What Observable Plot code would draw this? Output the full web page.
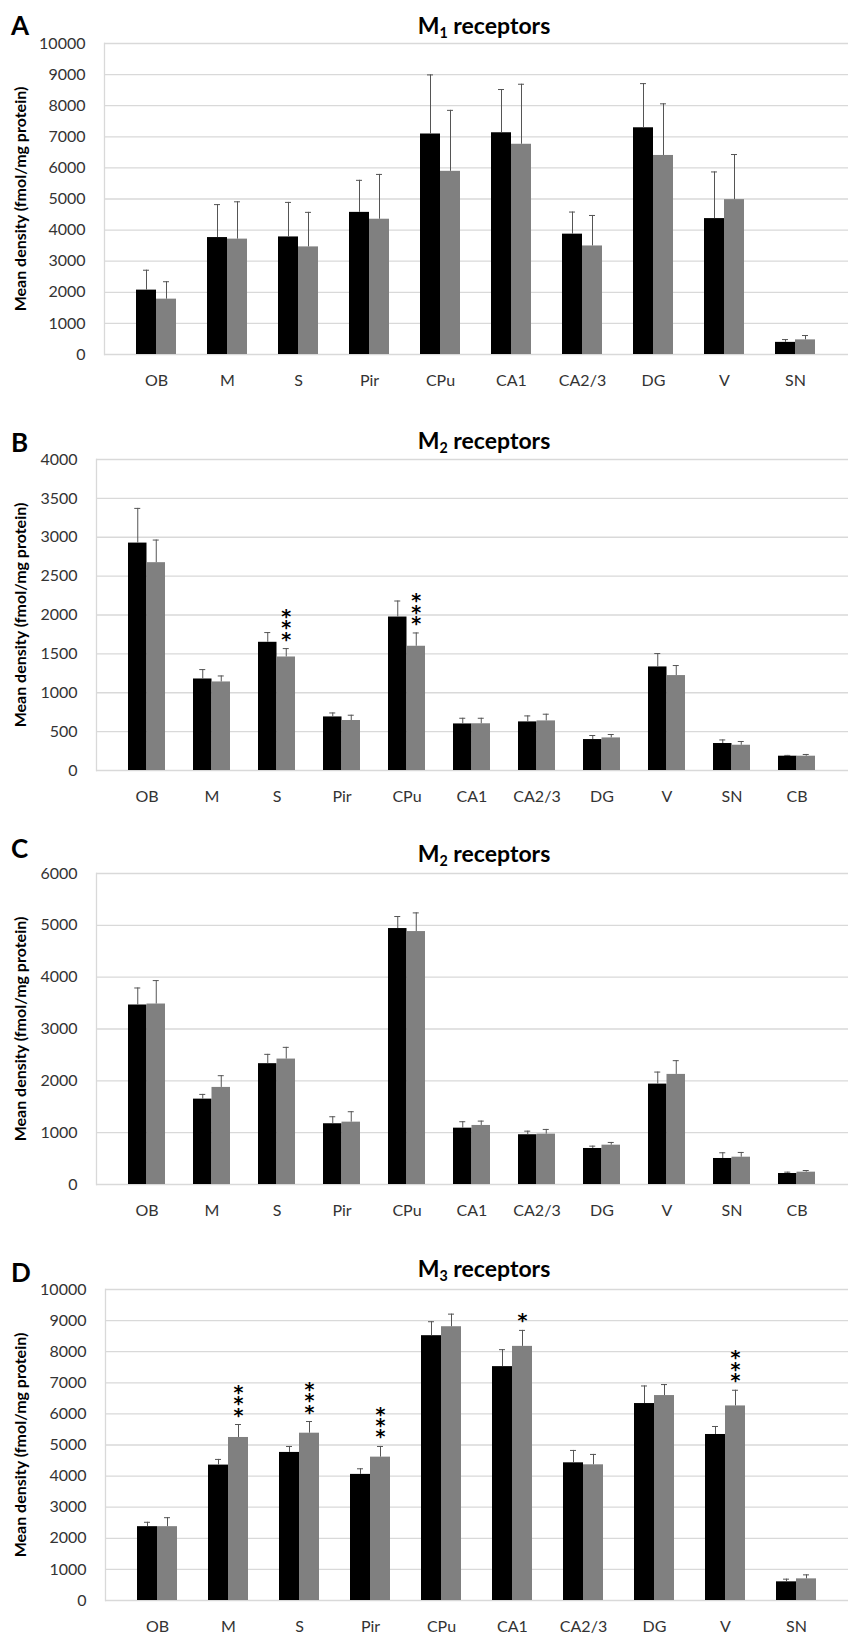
<!DOCTYPE html>
<html><head><meta charset="utf-8">
<script src="https://cdn.jsdelivr.net/npm/d3@7"></script>
<script src="https://cdn.jsdelivr.net/npm/@observablehq/plot@0.6"></script>
<style>
body{margin:0;background:#fff;width:849px;height:1634px;position:relative;overflow:hidden;font-family:Lato,"Open Sans",sans-serif;}
.panel{position:absolute;left:0;}
.letter{position:absolute;left:11px;font-weight:bold;font-size:26px;line-height:26px;color:#000;}
.title{position:absolute;left:334px;width:300px;text-align:center;font-weight:bold;font-size:23px;line-height:23px;color:#000;white-space:nowrap;}
.title sub{font-size:0.62em;vertical-align:-0.3em;line-height:0;}
</style></head>
<body>
<div id="root"></div>
<script>
// ---------- data ----------
const regions10 = ["OB","M","S","Pir","CPu","CA1","CA2/3","DG","V","SN"];
const regions11 = ["OB","M","S","Pir","CPu","CA1","CA2/3","DG","V","SN","CB"];

// Panel A: M1 receptors
const ctrlA     = [2070, 3760, 3780, 4570, 7090, 7130, 3870, 7290, 4370, 390];
const ctrlErrA  = [640, 1060, 1110, 1030, 1900, 1390, 710, 1420, 1500, 90];
const treatA    = [1780, 3710, 3460, 4350, 5890, 6760, 3490, 6400, 4980, 470];
const treatErrA = [560, 1200, 1110, 1440, 1960, 1930, 980, 1660, 1450, 140];
const sigA = [];

// Panel B: M2 receptors
const ctrlB     = [2925, 1177, 1649, 689, 1974, 599, 625, 398, 1332, 347, 184];
const ctrlErrB  = [446, 121, 125, 51, 206, 73, 77, 52, 172, 46, 10];
const treatB    = [2673, 1139, 1460, 643, 1598, 601, 638, 419, 1221, 325, 184];
const treatErrB = [291, 77, 108, 68, 171, 71, 86, 44, 129, 48, 22];
const sigB = [{region:"S", n:3}, {region:"CPu", n:3}];

// Panel C: M2 receptors
const ctrlC     = [3463, 1647, 2331, 1172, 4938, 1087, 960, 695, 1937, 502, 212];
const ctrlErrC  = [328, 91, 180, 135, 232, 124, 69, 45, 232, 110, 26];
const treatC    = [3482, 1873, 2420, 1203, 4880, 1139, 972, 759, 2124, 527, 238];
const treatErrC = [452, 226, 226, 201, 360, 84, 90, 52, 265, 91, 32];
const sigC = [];

// Panel D: M3 receptors
const ctrlD     = [2374, 4354, 4761, 4055, 8515, 7520, 4427, 6333, 5338, 600];
const ctrlErrD  = [141, 182, 192, 180, 449, 546, 398, 565, 257, 86];
const treatD    = [2374, 5242, 5380, 4610, 8803, 8171, 4363, 6590, 6256, 696];
const treatErrD = [289, 417, 375, 343, 405, 514, 334, 353, 504, 128];
const sigD = [{region:"M", n:3}, {region:"S", n:3}, {region:"Pir", n:3}, {region:"CA1", n:1}, {region:"V", n:3}];

const yLabel = "Mean density (fmol/mg protein)";

const panels = [
  {letter:"A", sub:"1", regions:regions10, ctrl:ctrlA, ctrlErr:ctrlErrA, treat:treatA, treatErr:treatErrA, sig:sigA, yMax:10000, yStep:1000, top:23, ml:104, letterTop:12, titleTop:14},
  {letter:"B", sub:"2", regions:regions11, ctrl:ctrlB, ctrlErr:ctrlErrB, treat:treatB, treatErr:treatErrB, sig:sigB, yMax:4000, yStep:500, top:439, ml:96, letterTop:429, titleTop:429},
  {letter:"C", sub:"2", regions:regions11, ctrl:ctrlC, ctrlErr:ctrlErrC, treat:treatC, treatErr:treatErrC, sig:sigC, yMax:6000, yStep:1000, top:853, ml:96, letterTop:835, titleTop:842},
  {letter:"D", sub:"3", regions:regions10, ctrl:ctrlD, ctrlErr:ctrlErrD, treat:treatD, treatErr:treatErrD, sig:sigD, yMax:10000, yStep:1000, top:1269, ml:105, letterTop:1259, titleTop:1257}
];

const root = document.getElementById("root");
const W = 849, H = 376, MT = 20, MB = 45, MR = 1;
const font = "Lato, 'Open Sans', sans-serif";

for (const p of panels) {
  const rows = p.regions.map((r, i) => ({
    region: r, ctrl: p.ctrl[i], ctrlTop: p.ctrl[i] + p.ctrlErr[i],
    treat: p.treat[i], treatTop: p.treat[i] + p.treatErr[i]
  }));
  const sigRows = p.sig.map(s => ({region: s.region, n: s.n, top: rows.find(r => r.region === s.region).treatTop}));
  const yTicks = d3.range(0, p.yMax + 1, p.yStep);

  const xOpts = {domain: p.regions, padding: 0.43, label: null, tickSize: 0, tickPadding: 20};
  const base = {width: W, height: H, marginTop: MT, marginBottom: MB, marginLeft: p.ml, marginRight: MR};
  // probe Plot's own x scale and rebuild its band width
  const probe = Plot.plot({...base, x: xOpts, y: {domain: [0, p.yMax]}, marks: [Plot.barY(rows, {x: "region", y: "ctrl"})]});
  const sx = probe.scale("x");
  let bw = sx.bandwidth;
  if (!(bw > 0)) {
    const pi = sx.paddingInner ?? sx.padding ?? 0.43;
    const po = sx.paddingOuter ?? sx.padding ?? 0.43;
    bw = d3.scaleBand(sx.domain, sx.range).paddingInner(pi).paddingOuter(po).align(sx.align ?? 0.5).round(!!sx.round).bandwidth();
  }
  const half = bw / 2, q = bw / 4, cap = 3;

  const chart = Plot.plot({
    ...base,
    style: {fontFamily: font, fontSize: "16px", color: "#333", background: "transparent", overflow: "visible"},
    x: xOpts,
    y: {domain: [0, p.yMax], ticks: yTicks, tickFormat: "d", label: null, tickSize: 0, tickPadding: 19},
    marks: [
      Plot.ruleY(yTicks, {stroke: "#d9d9d9", strokeWidth: 1.3}),
      Plot.frame({anchor: "left", stroke: "#d9d9d9", strokeWidth: 1.3}),
      Plot.barY(rows, {x: "region", y: "ctrl", fill: "#000", insetRight: half}),
      Plot.barY(rows, {x: "region", y: "treat", fill: "#808080", insetLeft: half}),
      Plot.ruleX(rows, {x: "region", y1: "ctrl", y2: "ctrlTop", dx: -q, stroke: "#555", strokeWidth: 1}),
      Plot.tickY(rows, {x: "region", y: "ctrlTop", dx: -q, insetLeft: half - cap, insetRight: half - cap, stroke: "#555", strokeWidth: 1}),
      Plot.ruleX(rows, {x: "region", y1: "treat", y2: "treatTop", dx: q, stroke: "#555", strokeWidth: 1}),
      Plot.tickY(rows, {x: "region", y: "treatTop", dx: q, insetLeft: half - cap, insetRight: half - cap, stroke: "#555", strokeWidth: 1}),
      Plot.text(sigRows, {x: "region", y: "top", dx: q, dy: -3, text: d => Array(d.n).fill("*").join("\n"),
        lineAnchor: "bottom", lineHeight: 0.6, fontSize: 19, fontWeight: "bold", fill: "#000", fontFamily: "DejaVu Sans"}),
      Plot.text([yLabel], {frameAnchor: "left", dx: -(p.ml - 20), rotate: -90, fontWeight: "bold", fontSize: 16, fill: "#000", textAnchor: "middle"})
    ]
  });
  const wrap = document.createElement("div");
  wrap.className = "panel";
  wrap.style.top = p.top + "px";
  wrap.appendChild(chart);
  root.appendChild(wrap);

  const L = document.createElement("div");
  L.className = "letter"; L.style.top = p.letterTop + "px"; L.textContent = p.letter;
  root.appendChild(L);
  const T = document.createElement("div");
  T.className = "title"; T.style.top = p.titleTop + "px";
  T.innerHTML = "M<sub>" + p.sub + "</sub> receptors";
  root.appendChild(T);
}
</script>
</body></html>
